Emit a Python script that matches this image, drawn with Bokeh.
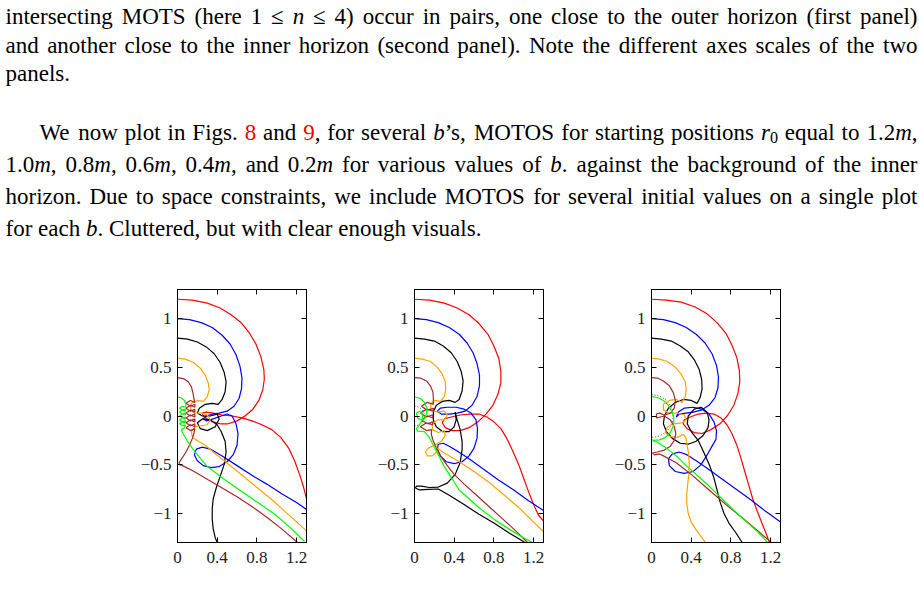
from bokeh.plotting import figure
from bokeh.layouts import column, row
from bokeh.models import (ColumnDataSource, Range1d, LinearAxis, FixedTicker,
                          CustomJSTickFormatter, Spacer)
from bokeh.core.properties import value, field
from bokeh.embed import file_html
from bokeh.resources import INLINE

SERIF = "Liberation Serif"
TEXT_SIZE = 23.0
TEXT_RIGHT = 917.0

# ---------------------------------------------------------------- body text
# a word is either a plain string or a list of (text, style) pieces
PARA1_LINES = [
    ["intersecting", "MOTS", "(here", "1", "≤", [("n", "it")], "≤", "4)", "occur", "in",
     "pairs,", "one", "close", "to", "the", "outer", "horizon", "(first", "panel)"],
    ["and", "another", "close", "to", "the", "inner", "horizon", "(second", "panel).",
     "Note", "the", "different", "axes", "scales", "of", "the", "two"],
    ["panels."],
]
PARA2_LINES = [
    ["We", "now", "plot", "in", "Figs.", [("8", "red")], "and", [("9", "red"), (",", "rm")],
     "for", "several", [("b", "it"), ("’s,", "rm")], "MOTOS", "for", "starting", "positions",
     [("r", "it"), ("0", "sub")], "equal", "to", [("1.2", "rm"), ("m", "it"), (",", "rm")]],
    [[("1.0", "rm"), ("m", "it"), (",", "rm")], [("0.8", "rm"), ("m", "it"), (",", "rm")],
     [("0.6", "rm"), ("m", "it"), (",", "rm")], [("0.4", "rm"), ("m", "it"), (",", "rm")],
     "and", [("0.2", "rm"), ("m", "it")], "for", "various", "values", "of",
     [("b", "it"), (".", "rm")], "against", "the", "background", "of", "the", "inner"],
    ["horizon.", "Due", "to", "space", "constraints,", "we", "include", "MOTOS", "for",
     "several", "initial", "values", "on", "a", "single", "plot"],
    ["for", "each", [("b", "it"), (".", "rm")], "Cluttered,", "but", "with", "clear",
     "enough", "visuals."],
]
# (left edge, baseline, justified) for each printed line
LINE_LAYOUT = [(5, 16, True), (5, 45, True), (5, 73, False),
               (39, 132, True), (5, 164, True), (5, 196, True), (5, 228, False)]

# advance widths (1/1000 em) of the serif face, used to justify the lines
ROMAN_W = {' ': 250, 'a': 444, 'b': 500, 'c': 444, 'd': 500, 'e': 444, 'f': 333, 'g': 500,
           'h': 500, 'i': 278, 'j': 278, 'k': 500, 'l': 278, 'm': 778, 'n': 500, 'o': 500,
           'p': 500, 'q': 500, 'r': 333, 's': 389, 't': 278, 'u': 500, 'v': 500, 'w': 722,
           'x': 500, 'y': 500, 'z': 444, 'A': 722, 'B': 667, 'C': 667, 'D': 722, 'E': 611,
           'F': 556, 'G': 722, 'H': 722, 'I': 333, 'J': 389, 'K': 722, 'L': 611, 'M': 889,
           'N': 722, 'O': 722, 'P': 556, 'Q': 722, 'R': 667, 'S': 556, 'T': 611, 'U': 722,
           'V': 722, 'W': 944, 'X': 722, 'Y': 722, 'Z': 611, '.': 250, ',': 250, '(': 333,
           ')': 333, '’': 333, '≤': 549, '-': 333}
ITALIC_W = {'b': 500, 'm': 722, 'n': 500, 'r': 389}

# ---------------------------------------------------------------- curves
# MOTOS started at r0 = 1.2, 1.0, 0.8, 0.6, 0.4, 0.2 (in units of m), three values of b
P1_RED = [(0, 1.2), (0.15, 1.19), (0.30, 1.16), (0.43, 1.11), (0.54, 1.04), (0.64, 0.96),
          (0.72, 0.86), (0.79, 0.74), (0.84, 0.61), (0.87, 0.48), (0.875, 0.38), (0.86, 0.27),
          (0.82, 0.16), (0.76, 0.07), (0.68, 0.0), (0.60, -0.05), (0.51, -0.08), (0.43, -0.08),
          (0.36, -0.06), (0.30, -0.03), (0.26, 0.0), (0.25, 0.03), (0.29, 0.04), (0.36, 0.03),
          (0.45, 0.01), (0.55, 0.0), (0.65, -0.02), (0.75, -0.05), (0.85, -0.09), (0.95, -0.14),
          (1.04, -0.22), (1.12, -0.33), (1.18, -0.46), (1.23, -0.60), (1.27, -0.73), (1.30, -0.85)]
P1_BLUE = [(0, 1.0), (0.12, 0.99), (0.24, 0.96), (0.35, 0.91), (0.45, 0.83), (0.53, 0.74),
           (0.59, 0.63), (0.63, 0.51), (0.65, 0.39), (0.645, 0.28), (0.62, 0.18), (0.57, 0.10),
           (0.50, 0.05), (0.42, 0.03), (0.35, 0.02), (0.29, 0.0), (0.26, -0.03), (0.29, -0.05),
           (0.36, -0.03), (0.44, 0.0), (0.50, 0.02), (0.55, 0.0), (0.59, -0.08), (0.61, -0.18),
           (0.60, -0.30), (0.56, -0.40), (0.50, -0.47), (0.42, -0.52), (0.34, -0.53),
           (0.26, -0.51), (0.20, -0.46), (0.17, -0.40), (0.19, -0.34), (0.25, -0.32),
           (0.33, -0.34), (0.45, -0.41), (0.60, -0.51), (0.75, -0.61), (0.90, -0.70),
           (1.05, -0.80), (1.20, -0.89), (1.30, -0.96)]
P1_BLACK = [(0, 0.80), (0.10, 0.79), (0.20, 0.76), (0.29, 0.71), (0.37, 0.64), (0.43, 0.55),
            (0.47, 0.45), (0.49, 0.35), (0.48, 0.25), (0.45, 0.17), (0.41, 0.12), (0.35, 0.13),
            (0.28, 0.12), (0.22, 0.08), (0.20, 0.03), (0.25, 0.0), (0.33, 0.0), (0.40, 0.02),
            (0.42, -0.03), (0.38, -0.11), (0.30, -0.15), (0.23, -0.13), (0.20, -0.07),
            (0.25, -0.03), (0.33, -0.04), (0.40, -0.09), (0.44, -0.16), (0.48, -0.26),
            (0.49, -0.37), (0.47, -0.50), (0.43, -0.62), (0.39, -0.74), (0.36, -0.85),
            (0.35, -0.95), (0.35, -1.06), (0.36, -1.16), (0.38, -1.25), (0.40, -1.30)]
P1_ORANGE = [(0, 0.595), (0.08, 0.585), (0.16, 0.55), (0.23, 0.49), (0.28, 0.42), (0.31, 0.34),
             (0.32, 0.27), (0.30, 0.20), (0.26, 0.15), (0.20, 0.16), (0.14, 0.13), (0.13, 0.07),
             (0.17, 0.03), (0.24, 0.03), (0.30, 0.01), (0.33, -0.04), (0.30, -0.09),
             (0.24, -0.10), (0.18, -0.11), (0.14, -0.16), (0.15, -0.22), (0.21, -0.26),
             (0.28, -0.30), (0.36, -0.37), (0.47, -0.46), (0.58, -0.55), (0.70, -0.65),
             (0.82, -0.75), (0.94, -0.85), (1.06, -0.96), (1.18, -1.07), (1.30, -1.18)]
P1_BROWN = [(0, 0.395), (0.06, 0.385), (0.11, 0.35), (0.14, 0.30), (0.155, 0.24), (0.165, 0.18),
            (0.175, 0.14), (0.13, 0.16), (0.085, 0.13), (0.13, 0.10), (0.175, 0.12),
            (0.175, 0.09), (0.13, 0.11), (0.085, 0.08), (0.13, 0.05), (0.175, 0.07),
            (0.175, 0.04), (0.13, 0.06), (0.085, 0.03), (0.13, 0.0), (0.175, 0.02),
            (0.175, -0.01), (0.13, 0.01), (0.085, -0.02), (0.13, -0.05), (0.175, -0.03),
            (0.175, -0.06), (0.13, -0.04), (0.085, -0.07), (0.13, -0.10), (0.175, -0.08),
            (0.175, -0.11), (0.13, -0.09), (0.085, -0.12), (0.13, -0.15), (0.175, -0.13),
            (0.165, -0.18), (0.15, -0.23), (0.12, -0.30), (0.08, -0.38), (0.04, -0.44),
            (0.015, -0.48), (0.02, -0.50), (0.05, -0.51), (0.15, -0.56), (0.30, -0.65),
            (0.45, -0.74), (0.60, -0.83), (0.75, -0.93), (0.90, -1.04), (1.05, -1.16),
            (1.21, -1.30)]
P1_GREEN = [(0, 0.196), (0.04, 0.185), (0.07, 0.16), (0.085, 0.12),
            (0.08, 0.09), (0.05, 0.10), (0.02, 0.08), (0.05, 0.06), (0.08, 0.07),
            (0.08, 0.05), (0.05, 0.06), (0.02, 0.04), (0.05, 0.02), (0.08, 0.03),
            (0.08, 0.01), (0.05, 0.02), (0.02, 0.0), (0.05, -0.02), (0.08, -0.01),
            (0.08, -0.03), (0.05, -0.02), (0.02, -0.04), (0.05, -0.06), (0.08, -0.05),
            (0.08, -0.07), (0.05, -0.06), (0.02, -0.08), (0.05, -0.10), (0.08, -0.09),
            (0.07, -0.12), (0.04, -0.14), (0.05, -0.17), (0.10, -0.26), (0.185, -0.38),
            (0.30, -0.52), (0.47, -0.65), (0.64, -0.77), (0.81, -0.89), (0.98, -1.01),
            (1.14, -1.15), (1.28, -1.29)]

P2_RED = [(0, 1.2), (0.15, 1.19), (0.30, 1.16), (0.43, 1.11), (0.55, 1.04), (0.65, 0.95),
          (0.74, 0.84), (0.80, 0.72), (0.85, 0.59), (0.87, 0.46), (0.87, 0.34), (0.84, 0.22),
          (0.79, 0.11), (0.72, 0.02), (0.64, -0.06), (0.55, -0.12), (0.46, -0.15), (0.38, -0.15),
          (0.31, -0.12), (0.28, -0.07), (0.30, -0.03), (0.37, -0.01), (0.46, 0.01), (0.56, 0.02),
          (0.65, 0.02), (0.73, -0.01), (0.80, -0.06), (0.87, -0.13), (0.93, -0.23), (0.99, -0.36),
          (1.05, -0.50), (1.10, -0.64), (1.15, -0.78), (1.20, -0.91), (1.25, -1.02), (1.30, -1.08)]
P2_BLUE = [(0, 1.0), (0.12, 0.99), (0.24, 0.96), (0.35, 0.91), (0.45, 0.84), (0.53, 0.75),
           (0.59, 0.65), (0.63, 0.54), (0.655, 0.42), (0.655, 0.31), (0.63, 0.20), (0.58, 0.11),
           (0.51, 0.05), (0.43, 0.03), (0.35, 0.02), (0.27, 0.02), (0.23, 0.05), (0.26, 0.08),
           (0.33, 0.09), (0.42, 0.09), (0.50, 0.07), (0.57, 0.03), (0.62, -0.04), (0.635, -0.13),
           (0.63, -0.23), (0.60, -0.33), (0.55, -0.41), (0.48, -0.47), (0.40, -0.49),
           (0.32, -0.47), (0.26, -0.41), (0.23, -0.34), (0.24, -0.29), (0.29, -0.28),
           (0.35, -0.31), (0.43, -0.36), (0.55, -0.44), (0.70, -0.55), (0.85, -0.66),
           (1.00, -0.76), (1.15, -0.87), (1.30, -0.97)]
P2_BLACK = [(0, 0.80), (0.10, 0.79), (0.20, 0.77), (0.29, 0.72), (0.37, 0.65), (0.43, 0.56),
            (0.47, 0.46), (0.49, 0.36), (0.48, 0.26), (0.45, 0.17), (0.41, 0.14), (0.35, 0.16),
            (0.28, 0.15), (0.22, 0.11), (0.19, 0.04), (0.19, -0.04), (0.22, -0.11), (0.28, -0.16),
            (0.35, -0.16), (0.40, -0.11), (0.42, -0.04), (0.41, 0.04), (0.43, -0.04),
            (0.46, -0.14), (0.48, -0.26), (0.48, -0.34), (0.46, -0.48), (0.41, -0.60),
            (0.33, -0.69), (0.24, -0.73), (0.15, -0.735), (0.07, -0.72), (0.02, -0.72),
            (0.01, -0.74), (0.05, -0.76), (0.14, -0.755), (0.24, -0.75), (0.35, -0.815),
            (0.50, -0.91), (0.65, -1.01), (0.80, -1.10), (0.95, -1.20), (1.13, -1.31)]
P2_ORANGE = [(0, 0.595), (0.08, 0.585), (0.16, 0.56), (0.23, 0.50), (0.28, 0.43), (0.31, 0.35),
             (0.315, 0.27), (0.30, 0.20), (0.26, 0.15), (0.20, 0.16), (0.16, 0.12), (0.17, 0.06),
             (0.23, 0.04), (0.30, 0.05), (0.33, 0.01), (0.30, -0.04), (0.23, -0.04),
             (0.18, -0.08), (0.18, -0.14), (0.24, -0.17), (0.30, -0.15), (0.31, -0.20),
             (0.27, -0.26), (0.20, -0.30), (0.14, -0.33), (0.11, -0.37), (0.13, -0.41),
             (0.18, -0.41), (0.22, -0.37), (0.23, -0.33), (0.30, -0.38), (0.45, -0.47),
             (0.60, -0.57), (0.75, -0.68), (0.90, -0.81), (1.05, -0.94), (1.18, -1.07),
             (1.30, -1.19)]
P2_BROWN = [(0, 0.395), (0.06, 0.39), (0.12, 0.36), (0.16, 0.31), (0.185, 0.25), (0.19, 0.18),
            (0.19, 0.12), (0.13, 0.14), (0.07, 0.10), (0.13, 0.06), (0.19, 0.08),
            (0.19, 0.05), (0.12, 0.07), (0.06, 0.03), (0.12, -0.01), (0.18, 0.01),
            (0.19, -0.02), (0.13, 0.0), (0.07, -0.04), (0.13, -0.08), (0.19, -0.06),
            (0.18, -0.09), (0.12, -0.07), (0.06, -0.11), (0.12, -0.15), (0.17, -0.14),
            (0.17, -0.19), (0.19, -0.26), (0.22, -0.33), (0.27, -0.42), (0.33, -0.51),
            (0.40, -0.60), (0.50, -0.70), (0.62, -0.81), (0.75, -0.93), (0.88, -1.05),
            (1.01, -1.17), (1.14, -1.30)]
P2_GREEN = [(0, 0.196), (0.06, 0.18), (0.10, 0.14), (0.125, 0.08), (0.12, 0.02), (0.10, -0.03),
            (0.07, -0.04), (0.03, -0.02), (0.02, 0.03), (0.05, 0.05), (0.08, 0.02), (0.08, -0.04),
            (0.05, -0.09), (0.02, -0.13), (0.03, -0.155), (0.10, -0.16), (0.15, -0.22),
            (0.19, -0.30), (0.24, -0.40), (0.30, -0.52), (0.37, -0.63), (0.45, -0.76),
            (0.55, -0.85), (0.66, -0.95), (0.80, -1.06), (0.95, -1.16), (1.08, -1.24),
            (1.19, -1.30)]
P2_HORIZON = [(0, 0.10), (0.026, 0.097), (0.05, 0.087), (0.071, 0.071), (0.087, 0.05),
              (0.097, 0.026), (0.10, 0), (0.097, -0.026), (0.087, -0.05), (0.071, -0.071),
              (0.05, -0.087), (0.026, -0.097), (0, -0.10)]

P3_RED = [(0, 1.2), (0.15, 1.19), (0.30, 1.17), (0.44, 1.12), (0.56, 1.05), (0.66, 0.96),
          (0.75, 0.85), (0.81, 0.73), (0.86, 0.60), (0.885, 0.47), (0.89, 0.35), (0.87, 0.23),
          (0.83, 0.11), (0.77, 0.01), (0.69, -0.08), (0.60, -0.14), (0.51, -0.18), (0.43, -0.17),
          (0.36, -0.13), (0.32, -0.08), (0.33, -0.04), (0.39, -0.01), (0.47, 0.02), (0.55, 0.03),
          (0.63, 0.02), (0.70, -0.02), (0.76, -0.09), (0.81, -0.18), (0.86, -0.30), (0.90, -0.43),
          (0.94, -0.57), (0.98, -0.71), (1.02, -0.85), (1.07, -0.99), (1.12, -1.12),
          (1.16, -1.22), (1.19, -1.31)]
P3_BLUE = [(0, 1.0), (0.12, 0.99), (0.24, 0.96), (0.35, 0.91), (0.45, 0.84), (0.54, 0.75),
           (0.61, 0.64), (0.655, 0.52), (0.675, 0.40), (0.67, 0.29), (0.64, 0.19), (0.58, 0.11),
           (0.50, 0.06), (0.42, 0.04), (0.35, 0.03), (0.28, 0.02), (0.25, -0.01), (0.27, 0.04),
           (0.33, 0.08), (0.42, 0.09), (0.51, 0.07), (0.58, 0.02), (0.63, -0.06), (0.655, -0.15),
           (0.65, -0.24), (0.61, -0.31), (0.56, -0.40), (0.50, -0.50), (0.42, -0.57),
           (0.33, -0.59), (0.24, -0.57), (0.18, -0.51), (0.17, -0.44), (0.21, -0.39),
           (0.28, -0.37), (0.36, -0.40), (0.45, -0.46), (0.55, -0.53), (0.70, -0.64),
           (0.85, -0.75), (1.00, -0.86), (1.15, -0.98), (1.30, -1.09)]
P3_BLACK = [(0, 0.80), (0.10, 0.79), (0.20, 0.77), (0.29, 0.72), (0.37, 0.66), (0.43, 0.58),
            (0.48, 0.48), (0.505, 0.38), (0.51, 0.28), (0.49, 0.19), (0.46, 0.13), (0.40, 0.16),
            (0.32, 0.17), (0.24, 0.14), (0.17, 0.08), (0.13, 0.0), (0.12, -0.08), (0.15, -0.16),
            (0.21, -0.23), (0.29, -0.28), (0.37, -0.29), (0.45, -0.26), (0.52, -0.20),
            (0.57, -0.12), (0.58, -0.04), (0.56, 0.04), (0.50, 0.09), (0.43, 0.07),
            (0.37, 0.0), (0.36, -0.08), (0.40, -0.16), (0.47, -0.25), (0.53, -0.38),
            (0.59, -0.52), (0.63, -0.64), (0.66, -0.76), (0.69, -0.88), (0.73, -1.00),
            (0.78, -1.10), (0.85, -1.20), (0.92, -1.31)]
P3_ORANGE = [(0, 0.595), (0.08, 0.585), (0.16, 0.56), (0.24, 0.50), (0.30, 0.43), (0.34, 0.35),
             (0.35, 0.27), (0.34, 0.20), (0.31, 0.14), (0.25, 0.17), (0.18, 0.16), (0.12, 0.12),
             (0.12, 0.06), (0.18, 0.03), (0.26, 0.03), (0.33, 0.01), (0.35, -0.04), (0.31, -0.07),
             (0.23, -0.08), (0.16, -0.11), (0.14, -0.17), (0.18, -0.21), (0.26, -0.22),
             (0.32, -0.19), (0.345, -0.22), (0.36, -0.30), (0.375, -0.40), (0.38, -0.50),
             (0.375, -0.60), (0.365, -0.70), (0.355, -0.80), (0.355, -0.90), (0.37, -1.00),
             (0.40, -1.09), (0.45, -1.17), (0.50, -1.24), (0.55, -1.31)]
P3_BROWN = [(0, 0.395), (0.06, 0.39), (0.12, 0.36), (0.18, 0.31), (0.22, 0.24), (0.24, 0.16),
            (0.23, 0.08), (0.19, 0.03), (0.13, 0.01), (0.08, 0.03), (0.05, 0.02), (0.05, -0.02),
            (0.09, -0.01), (0.13, 0.0), (0.19, -0.04), (0.23, -0.11), (0.245, -0.18),
            (0.23, -0.25), (0.19, -0.31), (0.13, -0.35), (0.06, -0.37), (0.01, -0.38),
            (0.03, -0.40), (0.08, -0.39), (0.12, -0.41), (0.25, -0.48), (0.40, -0.60),
            (0.58, -0.76), (0.75, -0.91), (0.92, -1.05), (1.07, -1.18), (1.22, -1.31)]
P3_GREEN = [(0, 0.20), (0.06, 0.19), (0.12, 0.16), (0.17, 0.11), (0.21, 0.04), (0.225, -0.03),
            (0.22, -0.10), (0.19, -0.17), (0.14, -0.22), (0.08, -0.245), (0.02, -0.25),
            (0.0, -0.245), (0.06, -0.27), (0.15, -0.33), (0.25, -0.41), (0.35, -0.51),
            (0.45, -0.60), (0.58, -0.72), (0.70, -0.84), (0.82, -0.96), (0.95, -1.08),
            (1.07, -1.19), (1.17, -1.30)]
P3_HORIZON = [(0, 0.22), (0.057, 0.213), (0.11, 0.19), (0.156, 0.156), (0.19, 0.11),
              (0.213, 0.057), (0.22, 0), (0.213, -0.057), (0.19, -0.11), (0.156, -0.156),
              (0.11, -0.19), (0.057, -0.213), (0, -0.22)]

X_TICKS = [0, 0.4, 0.8, 1.2]
Y_TICKS = [-1, -0.5, 0, 0.5, 1]

R0_COLORS = ["#ff0000", "#0000ff", "#000000", "#ffa500", "#a52a2a", "#00ff00"]
PANELS = [
    ([P1_RED, P1_BLUE, P1_BLACK, P1_ORANGE, P1_BROWN, P1_GREEN], None),
    ([P2_RED, P2_BLUE, P2_BLACK, P2_ORANGE, P2_BROWN, P2_GREEN], P2_HORIZON),
    ([P3_RED, P3_BLUE, P3_BLACK, P3_ORANGE, P3_BROWN, P3_GREEN], P3_HORIZON),
]


# ---------------------------------------------------------------- text block
def pieces(word):
    return [(word, "rm")] if isinstance(word, str) else word


def piece_width(txt, style):
    if style == "sub":
        return sum(ROMAN_W.get(c, 500) for c in txt) / 1000 * TEXT_SIZE * 0.7
    table = ITALIC_W if style == "it" else ROMAN_W
    return sum(table.get(c, 500) for c in txt) / 1000 * TEXT_SIZE


cols = dict(x=[], y=[], text=[], color=[], style=[], size=[])
for words, (left, base, justify) in zip(PARA1_LINES + PARA2_LINES, LINE_LAYOUT):
    widths = [sum(piece_width(t, s) for t, s in pieces(w)) for w in words]
    if justify and len(words) > 1:
        gap = (TEXT_RIGHT - left - sum(widths)) / (len(words) - 1)
    else:
        gap = 0.25 * TEXT_SIZE
    x = left
    for w, ww in zip(words, widths):
        sx = x
        for t, s in pieces(w):
            cols["x"].append(sx)
            cols["y"].append(base + (0.2 * TEXT_SIZE if s == "sub" else 0))
            cols["text"].append(t)
            cols["color"].append("#ee0000" if s == "red" else "#000000")
            cols["style"].append("italic" if s == "it" else "normal")
            cols["size"].append(f"{TEXT_SIZE * (0.7 if s == 'sub' else 1.0):.1f}px")
            sx += piece_width(t, s)
        x += ww + gap

text_fig = figure(width=919, height=260, x_range=Range1d(0, 919), y_range=Range1d(260, 0),
                  output_backend="svg", toolbar_location=None, x_axis_type=None,
                  y_axis_type=None, min_border=0, outline_line_color=None)
text_fig.text(x="x", y="y", text="text", source=ColumnDataSource(cols),
              text_color=field("color"), text_font_style=field("style"),
              text_font_size=field("size"), text_font=value(SERIF),
              text_baseline="alphabetic", text_align="left")

# ---------------------------------------------------------------- panels
label_fmt = CustomJSTickFormatter(code="return tick < 0 ? '\u2212' + String(-tick) : String(tick);")


def make_axis(ticks, labelled, standoff):
    ax = LinearAxis(ticker=FixedTicker(ticks=ticks))
    ax.formatter = label_fmt if labelled else CustomJSTickFormatter(code="return '';")
    ax.major_tick_in = 5
    ax.major_tick_out = 0
    ax.minor_tick_line_color = None
    ax.axis_line_color = "black"
    ax.major_tick_line_color = "black"
    ax.major_label_text_font = SERIF
    ax.major_label_text_font_size = "17px"
    ax.major_label_text_color = "#222222"
    ax.major_label_standoff = standoff
    return ax


def make_panel(curves, horizon):
    p = figure(width=237, height=348, x_range=Range1d(0, 1.3), y_range=Range1d(-1.3, 1.3),
               output_backend="svg", toolbar_location=None, x_axis_type=None,
               y_axis_type=None, min_border_left=60, min_border_right=48,
               min_border_top=29, min_border_bottom=66)
    p.outline_line_color = "black"
    p.outline_line_width = 1
    p.add_layout(make_axis(X_TICKS, True, 9), "below")
    p.add_layout(make_axis(X_TICKS, False, 2), "above")
    p.add_layout(make_axis(Y_TICKS, True, 6), "left")
    p.add_layout(make_axis(Y_TICKS, False, 2), "right")
    if horizon is not None:
        p.line([q[0] for q in horizon], [q[1] for q in horizon], line_color="#444444",
               line_width=1, line_dash="1 2")
    for pts, color in zip(curves, R0_COLORS):
        p.line([q[0] for q in pts], [q[1] for q in pts], line_color=color, line_width=1.2)
    return p


figs = [make_panel(c, h) for c, h in PANELS]
panel_row = row(Spacer(width=117, height=348), *figs)
page = column(text_fig, panel_row)

open("out.html", "w").write(file_html(page, INLINE))
